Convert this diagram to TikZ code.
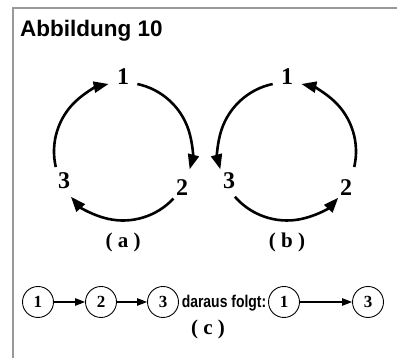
\documentclass[tikz,border=0pt]{standalone}
\usepackage{fontspec}
\setmainfont{Liberation Serif}
\newfontfamily\headfont{Liberation Sans}
\usepackage{graphicx}
\usetikzlibrary{arrows.meta,calc}
\begin{document}
\begin{tikzpicture}[x=1pt,y=1pt,
  frameline/.style={draw=black!40, line width=2pt},
  cyclearc/.style={line width=2.6pt, -{Triangle[length=15pt,width=11pt]}},
  cyclenum/.style={font=\fontsize{24}{24}\selectfont\bfseries, inner sep=0pt},
  caption/.style={font=\fontsize{21}{21}\selectfont\bfseries, inner sep=0pt},
  chainnode/.style={circle, draw, line width=0.9pt, minimum size=31pt, inner sep=0pt,
    font=\fontsize{17}{17}\selectfont\bfseries},
  chainarrow/.style={line width=1.1pt, -{Triangle[length=10pt,width=7.5pt]}},
]
\useasboundingbox (0,0) rectangle (397,358);
% frame and heading
\draw[frameline] (397,350) -- (13,350) -- (13,0);
\node[anchor=base west, inner sep=0pt, font=\headfont\bfseries\fontsize{22.5}{22.5}\selectfont]
  (title) at (20,321) {Abbildung 10};

% cycle (a): 1 -> 2 -> 3 -> 1, clockwise
\coordinate (ca) at (123,206.5);
\node[cyclenum] (a1) at (123,281) {1};
\node[cyclenum] (a2) at (182,170) {2};
\node[cyclenum] (a3) at (64,177) {3};
\coordinate (a12) at ($(ca)+(78:69)$);
\coordinate (a23) at ($(ca)+(-43:69)$);
\coordinate (a31) at ($(ca)+(193:69)$);
\draw[cyclearc] (a12) arc[start angle=78, end angle=-15, radius=69];
\draw[cyclearc] (a23) arc[start angle=-43, end angle=-139, radius=69];
\draw[cyclearc] (a31) arc[start angle=193, end angle=102, radius=69];
\node[caption] (capa) at (123,116) {( a )};

% cycle (b): 1 -> 3 -> 2 -> 1, counter-clockwise
\coordinate (cb) at (287,206.5);
\node[cyclenum] (b1) at (287,281) {1};
\node[cyclenum] (b2) at (346,170) {2};
\node[cyclenum] (b3) at (229,177) {3};
\coordinate (b13) at ($(cb)+(102:69)$);
\coordinate (b32) at ($(cb)+(221:69)$);
\coordinate (b21) at ($(cb)+(-13:69)$);
\draw[cyclearc] (b13) arc[start angle=102, end angle=195, radius=69];
\draw[cyclearc] (b32) arc[start angle=221, end angle=318, radius=69];
\draw[cyclearc] (b21) arc[start angle=-13, end angle=78, radius=69];
\node[caption] (capb) at (287,116) {( b )};

% chain (c)
\node[chainnode] (c1) at (38,56) {1};
\node[chainnode] (c2) at (101,56) {2};
\node[chainnode] (c3) at (163,56) {3};
\node[anchor=base, inner sep=0pt, font=\headfont\bfseries\fontsize{17}{17}\selectfont]
  (folgt) at (224,50) {\scalebox{0.82}[1]{daraus folgt:}};
\node[chainnode] (c4) at (284,56) {1};
\node[chainnode] (c5) at (368,56) {3};
\draw[chainarrow] (c1) -- (c2);
\draw[chainarrow] (c2) -- (c3);
\draw[chainarrow] (c4) -- (c5);
\node[caption] (capc) at (208,29) {( c )};
\end{tikzpicture}
\end{document}
